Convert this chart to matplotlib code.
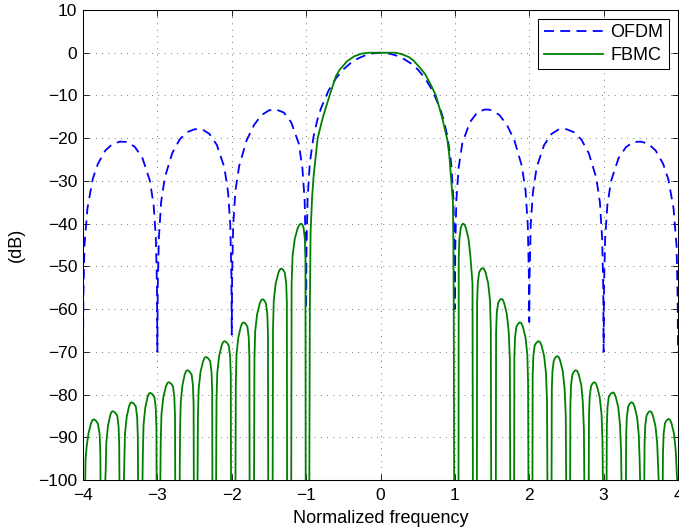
import numpy as np
import matplotlib
matplotlib.use("Agg")
import matplotlib.pyplot as plt

plt.rcParams.update({
    "font.family": ["Liberation Sans", "DejaVu Sans"], "font.size": 13,
    "axes.linewidth": 0.75,
})

# ---------------------------------------------------------------------
# OFDM spectrum (normalized frequency, dB)
# ---------------------------------------------------------------------
ofdm_f = [-4.0, -3.995, -3.98, -3.94, -3.87, -3.8, -3.7, -3.6, -3.5, -3.4, -3.3, -3.2,
          -3.1, -3.05, -3.02, -3.005, -3.0, -2.995, -2.98, -2.95, -2.9, -2.8, -2.7,
          -2.6, -2.5, -2.4, -2.3, -2.2, -2.1, -2.05, -2.02, -2.005, -2.0, -1.995,
          -1.98, -1.95, -1.9, -1.8, -1.7, -1.6, -1.5, -1.45, -1.4, -1.3, -1.2, -1.1,
          -1.05, -1.02, -1.005, -1.0, -0.995, -0.98, -0.95, -0.9, -0.85, -0.8, -0.7,
          -0.6, -0.5, -0.4, -0.3, -0.2, -0.1, 0.0,
          0.1, 0.2, 0.3, 0.4, 0.5, 0.6, 0.7, 0.8, 0.85, 0.9, 0.95, 0.98, 0.995, 1.0,
          1.005, 1.02, 1.05, 1.1, 1.2, 1.3, 1.4, 1.45, 1.5, 1.6, 1.7, 1.8, 1.9, 1.95,
          1.98, 1.995, 2.0, 2.005, 2.02, 2.05, 2.1, 2.2, 2.3, 2.4, 2.5, 2.6, 2.7, 2.8,
          2.9, 2.95, 2.98, 2.995, 3.0, 3.005, 3.02, 3.05, 3.1, 3.2, 3.3, 3.4, 3.5,
          3.6, 3.7, 3.8, 3.87, 3.94, 3.98, 3.995, 4.0]
ofdm_db = [-72.0, -57.0, -45.0, -36.4, -29.6, -26.0, -22.9, -21.3, -20.8, -20.9, -22.1,
           -24.7, -30.0, -35.7, -43.6, -55.0, -70.0, -55.0, -43.5, -35.0, -29.2, -23.5,
           -20.3, -18.6, -17.9, -17.9, -19.0, -21.6, -26.8, -32.6, -40.2, -52.0, -66.0,
           -52.0, -40.2, -32.2, -26.5, -20.5, -16.9, -14.6, -13.5, -13.3, -13.3, -14.0,
           -16.3, -21.2, -27.0, -34.5, -46.0, -60.0, -46.0, -34.0, -25.8, -19.6, -15.8,
           -13.0, -8.9, -6.0, -3.9, -2.4, -1.32, -0.58, -0.14, 0.0,
           -0.14, -0.58, -1.32, -2.4, -3.9, -6.0, -8.9, -13.0, -15.8, -19.6, -25.8,
           -34.0, -46.0, -60.0, -46.0, -34.5, -27.0, -21.2, -16.3, -14.0, -13.3, -13.3,
           -13.5, -14.6, -16.9, -20.5, -26.5, -32.2, -40.2, -52.0, -63.0, -52.0, -40.2,
           -32.6, -26.8, -21.6, -19.0, -17.9, -17.9, -18.6, -20.3, -23.5, -29.2, -35.0,
           -43.5, -55.0, -70.0, -55.0, -43.6, -35.7, -30.0, -24.7, -22.1, -20.9, -20.8,
           -21.3, -22.9, -26.0, -29.6, -36.4, -45.0, -57.0, -70.0]

# ---------------------------------------------------------------------
# FBMC spectrum: main lobe + side lobes (each lobe drops below -100 dB)
# ---------------------------------------------------------------------
fbmc_main_f = [-0.957, -0.950, -0.940, -0.920, -0.900, -0.870, -0.845, -0.773, -0.684,
               -0.600, -0.550, -0.450, -0.350, -0.250, -0.150, 0.0, 0.200, 0.280,
               0.380, 0.445, 0.520, 0.600, 0.670, 0.745, 0.826, 0.900, 0.925, 0.947,
               0.974, 0.980, 0.985, 0.990]
fbmc_main_db = [-100, -60, -42, -34, -29, -24, -20, -15, -10, -5.5, -4.0, -2.0, -0.8,
                -0.2, 0.0, 0.0, 0.0, -0.3, -1.0, -1.85, -3.3, -5.0, -7.3, -10, -15,
                -20.5, -24, -29, -35, -45, -60, -100]

fbmc_side_f = [
    [-3.970, -3.965, -3.950, -3.925, -3.893, -3.873, -3.853, -3.828, -3.800, -3.776, -3.767, -3.764],
    [-3.700, -3.695, -3.687, -3.665, -3.635, -3.618, -3.600, -3.570, -3.540, -3.522, -3.513, -3.510],
    [-3.450, -3.445, -3.436, -3.413, -3.382, -3.364, -3.345, -3.318, -3.290, -3.272, -3.263, -3.260],
    [-3.200, -3.195, -3.186, -3.163, -3.132, -3.114, -3.095, -3.068, -3.040, -3.022, -3.013, -3.010],
    [-2.960, -2.955, -2.945, -2.920, -2.885, -2.865, -2.845, -2.818, -2.790, -2.772, -2.763, -2.760],
    [-2.700, -2.695, -2.686, -2.663, -2.632, -2.614, -2.595, -2.568, -2.540, -2.522, -2.513, -2.510],
    [-2.460, -2.455, -2.445, -2.420, -2.385, -2.365, -2.345, -2.318, -2.290, -2.272, -2.263, -2.260],
    [-2.210, -2.205, -2.195, -2.170, -2.135, -2.115, -2.095, -2.068, -2.040, -2.022, -2.013, -2.010],
    [-1.950, -1.945, -1.936, -1.911, -1.878, -1.859, -1.839, -1.815, -1.790, -1.772, -1.763, -1.760],
    [-1.700, -1.695, -1.685, -1.659, -1.624, -1.604, -1.583, -1.562, -1.540, -1.522, -1.513, -1.510],
    [-1.450, -1.445, -1.435, -1.409, -1.373, -1.352, -1.332, -1.309, -1.286, -1.268, -1.259, -1.256],
    [-1.200, -1.195, -1.182, -1.152, -1.112, -1.088, -1.064, -1.049, -1.034, -1.018, -1.009, -1.006],
    [1.049, 1.052, 1.061, 1.079, 1.094, 1.108, 1.128, 1.148, 1.183, 1.208, 1.237, 1.242],
    [1.296, 1.299, 1.308, 1.326, 1.349, 1.372, 1.392, 1.412, 1.447, 1.472, 1.483, 1.488],
    [1.551, 1.554, 1.563, 1.581, 1.602, 1.623, 1.643, 1.663, 1.698, 1.723, 1.739, 1.744],
    [1.797, 1.800, 1.809, 1.827, 1.851, 1.874, 1.894, 1.914, 1.949, 1.974, 1.984, 1.989],
    [2.043, 2.046, 2.055, 2.073, 2.099, 2.125, 2.145, 2.165, 2.200, 2.225, 2.239, 2.244],
    [2.300, 2.303, 2.312, 2.330, 2.353, 2.375, 2.395, 2.415, 2.450, 2.475, 2.491, 2.496],
    [2.550, 2.553, 2.562, 2.580, 2.603, 2.625, 2.645, 2.665, 2.700, 2.720, 2.735, 2.740],
    [2.800, 2.803, 2.812, 2.830, 2.851, 2.872, 2.892, 2.912, 2.947, 2.972, 2.985, 2.990],
    [3.040, 3.043, 3.052, 3.070, 3.096, 3.122, 3.142, 3.162, 3.197, 3.220, 3.235, 3.240],
    [3.300, 3.303, 3.312, 3.330, 3.353, 3.375, 3.395, 3.415, 3.450, 3.472, 3.485, 3.490],
    [3.547, 3.550, 3.559, 3.577, 3.600, 3.622, 3.642, 3.662, 3.697, 3.720, 3.735, 3.740],
    [3.795, 3.798, 3.807, 3.825, 3.849, 3.872, 3.892, 3.912, 3.947, 3.970, 3.985, 3.990],
]
fbmc_side_db = [
    [-100, -95.0, -92.0, -89.0, -86.8, -86.0, -85.8, -86.1, -86.8, -89.3, -93.8, -100],
    [-100, -97.9, -91.4, -87.4, -84.9, -84.1, -83.9, -84.2, -84.9, -87.4, -91.9, -100],
    [-100, -95.8, -89.3, -85.3, -82.8, -82.0, -81.8, -82.1, -82.8, -85.3, -89.8, -100],
    [-100, -93.6, -87.1, -83.1, -80.6, -79.8, -79.6, -79.9, -80.6, -83.1, -87.6, -100],
    [-100, -91.1, -84.6, -80.6, -78.1, -77.3, -77.1, -77.4, -78.1, -80.6, -85.1, -100],
    [-100, -88.3, -81.8, -77.8, -75.3, -74.5, -74.3, -74.6, -75.3, -77.8, -82.3, -100],
    [-100, -85.2, -78.7, -74.7, -72.2, -71.4, -71.2, -71.5, -72.2, -74.7, -79.2, -100],
    [-100, -81.5, -75.0, -71.0, -68.5, -67.7, -67.5, -67.8, -68.5, -71.0, -75.5, -100],
    [-100, -77.1, -70.6, -66.6, -64.1, -63.3, -63.1, -63.4, -64.1, -66.6, -71.1, -100],
    [-100, -71.7, -65.2, -61.2, -58.7, -57.9, -57.7, -58.0, -58.7, -61.2, -65.7, -100],
    [-100, -64.5, -58.0, -54.0, -51.5, -50.7, -50.5, -50.8, -51.5, -54.0, -58.5, -100],
    [-100, -54.0, -47.5, -43.5, -41.0, -40.2, -40.0, -40.3, -41.0, -43.5, -48.0, -100],
    [-100, -48.0, -43.5, -41.0, -40.3, -40.0, -40.2, -41.0, -43.5, -47.5, -54.0, -100],
    [-100, -58.4, -53.9, -51.4, -50.7, -50.4, -50.6, -51.4, -53.9, -57.9, -64.4, -100],
    [-100, -65.6, -61.1, -58.6, -57.9, -57.6, -57.8, -58.6, -61.1, -65.1, -71.6, -100],
    [-100, -71.1, -66.6, -64.1, -63.4, -63.1, -63.3, -64.1, -66.6, -70.6, -77.1, -100],
    [-100, -75.5, -71.0, -68.5, -67.8, -67.5, -67.7, -68.5, -71.0, -75.0, -81.5, -100],
    [-100, -79.0, -74.5, -72.0, -71.3, -71.0, -71.2, -72.0, -74.5, -78.5, -85.0, -100],
    [-100, -82.3, -77.8, -75.3, -74.6, -74.3, -74.5, -75.3, -77.8, -81.8, -88.3, -100],
    [-100, -85.1, -80.6, -78.1, -77.4, -77.1, -77.3, -78.1, -80.6, -84.6, -91.1, -100],
    [-100, -87.5, -83.0, -80.5, -79.8, -79.5, -79.7, -80.5, -83.0, -87.0, -93.5, -100],
    [-100, -89.8, -85.3, -82.8, -82.1, -81.8, -82.0, -82.8, -85.3, -89.3, -95.8, -100],
    [-100, -91.9, -87.4, -84.9, -84.2, -83.9, -84.1, -84.9, -87.4, -91.4, -97.9, -100],
    [-100, -93.7, -89.2, -86.7, -86.0, -85.7, -85.9, -86.7, -89.2, -93.2, -99.0, -100],
]

xticks = [-4, -3, -2, -1, 0, 1, 2, 3, 4]
yticks = [10, 0, -10, -20, -30, -40, -50, -60, -70, -80, -90, -100]

# join all FBMC lobes into one line, broken by NaN between lobes
fbmc_f, fbmc_db = [], []
for f, d in zip(fbmc_side_f[:12] + [fbmc_main_f] + fbmc_side_f[12:],
                fbmc_side_db[:12] + [fbmc_main_db] + fbmc_side_db[12:]):
    fbmc_f += list(f) + [np.nan]
    fbmc_db += list(d) + [np.nan]

fig = plt.figure(figsize=(6.79, 5.31), dpi=100)
ax = fig.add_axes([83 / 679, 1 - 480 / 531, 595 / 679, 470 / 531])

ax.plot(ofdm_f, ofdm_db, color="#0000ff", lw=1.3, ls=(0, (5.5, 3.5)), label="OFDM")
ax.plot(fbmc_f, fbmc_db, color="#008000", lw=1.3, label="FBMC")

ax.set_xlim(-4, 4); ax.set_ylim(-100, 10)
ax.set_xticks(xticks); ax.set_yticks(yticks)
ax.grid(True, color="k", lw=0.5, ls=(0, (1, 8)))
ax.tick_params(direction="in", top=True, right=True, length=4, width=0.6,
               labelsize=12.5)
ax.tick_params(axis="x", pad=6)
ax.tick_params(axis="y", pad=4)
ax.set_xlabel("Normalized frequency", fontsize=13, labelpad=5)
ax.set_ylabel("(dB)", fontsize=13, labelpad=10)

leg = ax.legend(loc="upper right", fancybox=False, framealpha=1, edgecolor="k",
                handlelength=3.3, handletextpad=0.4, borderaxespad=0.5,
                borderpad=0.3, labelspacing=0.3, fontsize=13)
leg.get_frame().set_linewidth(0.75)

fig.savefig("out.png", dpi=100)
